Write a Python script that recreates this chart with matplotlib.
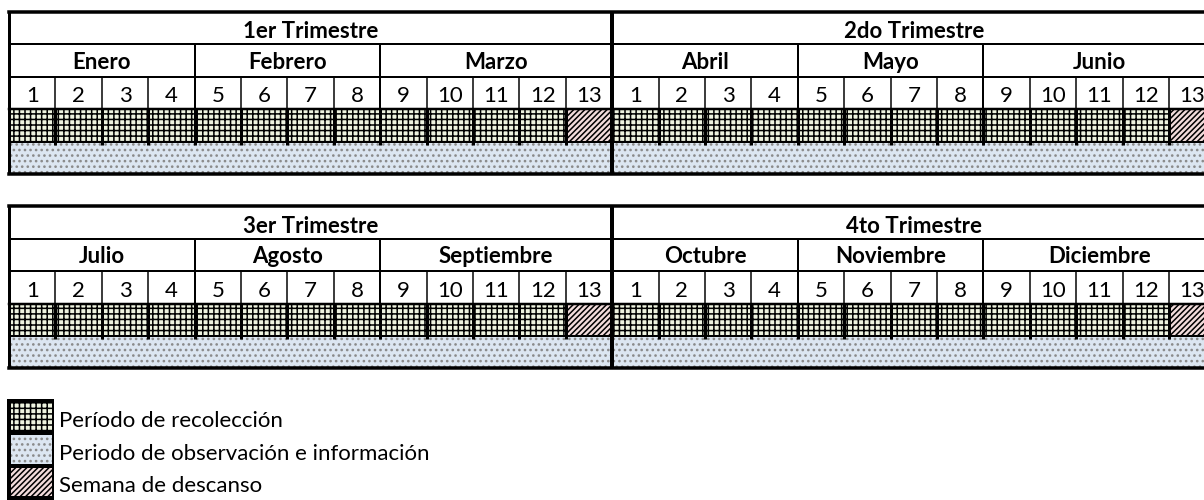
import matplotlib.pyplot as plt
from matplotlib.patches import Rectangle

plt.rcParams['font.family'] = ['Lato', 'DejaVu Sans']
plt.rcParams['hatch.linewidth'] = 1.1

# --- data ---
quarters = ["1er Trimestre", "2do Trimestre", "3er Trimestre", "4to Trimestre"]
months = ["Enero", "Febrero", "Marzo", "Abril", "Mayo", "Junio",
          "Julio", "Agosto", "Septiembre", "Octubre", "Noviembre", "Diciembre"]
weeks_per_month = [4, 4, 5]
weeks = list(range(1, 14))
collection_weeks = list(range(1, 13))
rest_weeks = [13]
legend_labels = ["Período de recolección",
                 "Periodo de observación e información",
                 "Semana de descanso"]

# --- layout (pixels) ---
COL_W = 46.4
ROW_H = 32.4
X0, Y0 = 9, 12
W, H = 1204, 500
FS = 16

fig = plt.figure(figsize=(W / 100, H / 100), dpi=100)
ax = fig.add_axes([0, 0, 1, 1])
ax.set_xlim(-X0 / COL_W, (W - X0) / COL_W)
ax.set_ylim((H - Y0) / ROW_H, -Y0 / ROW_H)
ax.axis('off')

px = 1 / COL_W   # one pixel in x units
py = 1 / ROW_H   # one pixel in y units

grid_style = dict(facecolor='#EEF3DF', edgecolor='black', hatch='+++', lw=0)
dot_style = dict(facecolor='#DCE6F1', edgecolor='#8A8A8A', hatch='...', lw=0)
rest_style = dict(facecolor='#F2DCDB', edgecolor='black', hatch='//////', lw=0)
styles = {'grid': grid_style, 'dot': dot_style, 'rest': rest_style}


def hline(y, x1, x2, w):
    ax.plot([x1, x2], [y, y], color='black', lw=w * 0.72,
            solid_capstyle='projecting', zorder=3)


def vline(x, y1, y2, w):
    ax.plot([x, x], [y1, y2], color='black', lw=w * 0.72,
            solid_capstyle='butt', zorder=3)


def draw_block(b, r0):
    for qi in range(2):
        q = 2 * b + qi
        xq = qi * 13
        ax.text(xq + 6.5, r0 + 1 - 6 * py, quarters[q], ha='center',
                va='baseline', fontsize=FS, fontweight='bold')
        start = xq
        for mi, n in enumerate(weeks_per_month):
            ax.text(start + n / 2, r0 + 2 - 8 * py, months[3 * q + mi],
                    ha='center', va='baseline', fontsize=FS, fontweight='bold')
            if mi > 0:
                vline(start, r0 + 1, r0 + 3, 2)
            start += n
        for wi, w in enumerate(weeks):
            x = xq + wi
            ax.text(x + 0.5, r0 + 3 - 7 * py, str(w), ha='center',
                    va='baseline', fontsize=FS)
            if wi > 0:
                vline(x, r0 + 2, r0 + 3, 1.5)
                vline(x, r0 + 3, r0 + 4 + 3 * py, 3)
            st = styles['rest'] if w in rest_weeks else styles['grid']
            ax.add_patch(Rectangle((x, r0 + 3), 1, 1, **st))
        ax.add_patch(Rectangle((xq, r0 + 4), 13, 1, **styles['dot']))
        vline(xq, r0, r0 + 5, 3 if qi == 0 else 4)

    xr = 26.5
    hline(r0, 0, xr, 3.5)
    hline(r0 + 1, 0, xr, 2)
    hline(r0 + 2, 0, xr, 2)
    hline(r0 + 3, 0, xr, 2.5)
    hline(r0 + 4, 0, xr, 2)
    hline(r0 + 5, 0, xr, 3.5)


draw_block(0, 0)
draw_block(1, 6)

# legend
lr = 12
ax.add_patch(Rectangle((-2 * px, lr - 1.5 * py), 1 + 1 * px, 3.5,
                       facecolor='black', lw=0))
for i, (key, label) in enumerate(zip(['grid', 'dot', 'rest'], legend_labels)):
    ax.add_patch(Rectangle((2 * px, lr + i + 2 * py), 1 - 5 * px,
                           1 - 4 * py, **styles[key]))
    ax.text(1 + 4 * px, lr + i + 1 - 6 * py, label, ha='left',
            va='baseline', fontsize=FS)

fig.savefig('out.png', dpi=100)
